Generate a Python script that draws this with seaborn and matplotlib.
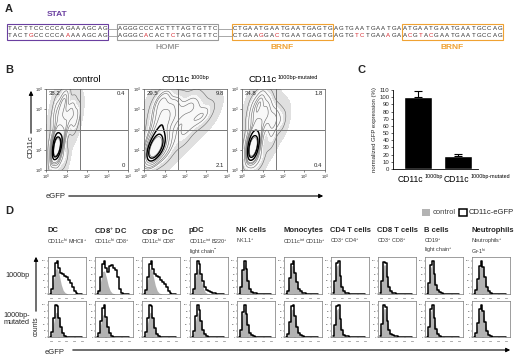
import numpy as np
import pandas as pd
import matplotlib
matplotlib.use("Agg")
import matplotlib.pyplot as plt
from matplotlib.patches import Rectangle
from matplotlib.colors import ListedColormap
import seaborn as sns

# ---------------- data ----------------
# Panel A: promoter sequences (wild type / mutated), segments between boxes
seq_wt = ["TACTTCCCCCAGAAAGCAG", "AGGGCCCACTTTAGTGTTC", "CTGAATGAATGAATGAGTG",
          "AGTGAATGAATGA", "ATGAATGAATGAATGCCAG"]
seq_mut = ["TACTGCCCCCAAAAAGCAG", "AGGGCACACTCTAGTGTTC", "CTGAAGGACTGAATGAGTG",
           "AGTGTCTGAAAGA", "ACGTACGAATGAATGCCAG"]
site_names = ["STAT", "HOMF", "BRNF", "", "BRNF"]

# Panel B: flow events (log10 units) and quadrant percentages
b_titles = [("control", ""), ("CD11c", "1000bp"), ("CD11c", "1000bp-mutated")]
core_x = [0.35, 0.45, 0.55, 0.40, 0.60, 0.50, 0.70, 0.45, 0.65, 0.80, 0.50, 0.55, 0.60, 0.45, 0.70, 0.40]
core_y = [0.60, 0.80, 1.00, 1.10, 1.20, 1.40, 1.00, 1.70, 1.60, 1.40, 0.90, 1.20, 0.80, 1.30, 1.30, 0.95]
control_x = core_x + [0.55, 0.75, 0.90, 0.60, 0.85, 1.00, 0.70, 1.10, 0.90, 1.25, 0.80, 1.30, 1.00, 1.40, 0.60, 0.40, 0.90, 0.30, 1.50, 0.50]
control_y = core_y + [2.00, 2.20, 1.90, 2.60, 2.60, 2.30, 3.00, 2.90, 3.30, 2.60, 3.50, 3.10, 3.60, 2.30, 0.35, 2.50, 0.60, 1.40, 2.80, 3.20]
bp1000_x = core_x + [0.55, 0.75, 0.90, 0.60, 0.85, 1.00, 0.70, 1.10, 0.90, 1.25, 0.80, 1.30, 1.00, 1.50, 1.80, 2.20, 2.60, 2.00, 2.80, 1.60, 2.40, 3.00, 1.20, 1.90, 2.30, 1.30, 1.00, 0.40]
bp1000_y = core_y + [2.00, 2.20, 1.90, 2.60, 2.60, 2.30, 3.00, 2.90, 3.30, 2.60, 3.50, 3.10, 3.60, 2.50, 2.90, 3.00, 3.20, 2.20, 2.60, 3.40, 2.40, 2.90, 1.20, 1.60, 3.50, 1.80, 0.70, 0.40]
mut_x = control_x + [1.50, 1.70, 1.90, 1.40, 1.20]
mut_y = control_y + [2.20, 2.60, 2.40, 1.50, 3.40]
quad_tl = ["38.2", "29.5", "34.8"]
quad_tr = ["0.4", "9.8", "1.8"]
quad_br = ["0", "2.1", "0.4"]

# Panel C: normalized GFP expression
bar_labels = ["1000bp", "1000bp-mutated"]
bar_values = [100, 18]
bar_errors = [8, 3]

# Panel D: histograms (% of max) along log10 eGFP
cell_titles = ["DC", r"CD8$^{+}$ DC", r"CD8$^{-}$ DC", "pDC", "NK cells", "Monocytes",
               "CD4 T cells", "CD8 T cells", "B cells", "Neutrophils"]
cell_subtitles = [r"CD11c$^{hi}$ MHCII$^{+}$", r"CD11c$^{hi}$ CD8$^{+}$", r"CD11c$^{hi}$ CD8$^{-}$",
                  "CD11c$^{int}$ B220$^{+}$\nlight chain$^{-}$", r"NK1.1$^{+}$",
                  r"CD11c$^{int}$ CD11b$^{+}$", r"CD3$^{+}$ CD4$^{+}$", r"CD3$^{+}$ CD8$^{+}$",
                  "CD19$^{+}$\nlight chain$^{+}$", "Neutrophils$^{+}$\nGr-1$^{hi}$"]
row_labels = ["1000bp", "1000bp-\nmutated"]
decades = [-0.25, 0.0, 0.25, 0.5, 0.75, 1.0, 1.25, 1.5, 1.75, 2.0, 2.25, 2.5, 2.75, 3.0, 3.25, 3.5, 3.75, 4.0]
control_counts = [
    [0, .12, .45, .75, .78, .55, .28, .11, .04, .01, 0, 0, 0, 0, 0, 0, 0, 0],
    [0, .10, .40, .68, .70, .50, .25, .10, .03, .01, 0, 0, 0, 0, 0, 0, 0, 0],
    [0, .12, .45, .75, .78, .52, .26, .10, .03, .01, 0, 0, 0, 0, 0, 0, 0, 0],
    [0, .14, .52, .78, .68, .42, .18, .06, .02, 0, 0, 0, 0, 0, 0, 0, 0, 0],
    [0, .20, .70, .92, .70, .35, .12, .04, .01, 0, 0, 0, 0, 0, 0, 0, 0, 0],
    [0, .10, .45, .85, .88, .60, .30, .12, .04, .01, 0, 0, 0, 0, 0, 0, 0, 0],
    [.02, .35, .85, .90, .50, .20, .06, .02, 0, 0, 0, 0, 0, 0, 0, 0, 0, 0],
    [.02, .38, .88, .88, .48, .18, .06, .02, 0, 0, 0, 0, 0, 0, 0, 0, 0, 0],
    [.01, .30, .80, .92, .55, .25, .10, .03, .01, 0, 0, 0, 0, 0, 0, 0, 0, 0],
    [0, .10, .40, .80, .92, .75, .45, .20, .07, .02, 0, 0, 0, 0, 0, 0, 0, 0],
]
egfp_1000bp = [
    [0, .15, .55, .95, 1.0, .78, .65, .60, .55, .50, .42, .33, .20, .08, .02, 0, 0, 0],
    [0, .10, .50, .90, 1.0, .80, .68, .85, .88, .80, .72, .50, .15, .04, .01, 0, 0, 0],
    [0, .12, .50, .92, 1.0, .75, .60, .55, .50, .42, .36, .30, .20, .08, .02, 0, 0, 0],
    [0, .15, .60, 1.0, .90, .60, .40, .22, .12, .08, .05, .04, .02, .01, 0, 0, 0, 0],
    [0, .20, .72, 1.0, .75, .40, .15, .06, .03, .02, .01, 0, 0, 0, 0, 0, 0, 0],
    [0, .10, .48, .92, 1.0, .65, .35, .16, .08, .04, .02, .01, 0, 0, 0, 0, 0, 0],
    [.02, .38, .95, 1.0, .55, .22, .08, .03, .02, .01, 0, 0, 0, 0, 0, 0, 0, 0],
    [.02, .40, .98, .95, .50, .20, .08, .03, .02, .01, 0, 0, 0, 0, 0, 0, 0, 0],
    [.01, .32, .88, 1.0, .60, .28, .12, .05, .02, .01, 0, 0, 0, 0, 0, 0, 0, 0],
    [0, .12, .45, .85, 1.0, .82, .50, .22, .08, .02, 0, 0, 0, 0, 0, 0, 0, 0],
]
egfp_mutated = [
    [0, .15, .60, 1.0, .95, .60, .30, .12, .04, .01, 0, 0, 0, 0, 0, 0, 0, 0],
    [0, .12, .50, .90, 1.0, .62, .30, .12, .04, .01, 0, 0, 0, 0, 0, 0, 0, 0],
    [0, .15, .58, 1.0, .95, .58, .28, .10, .03, .01, 0, 0, 0, 0, 0, 0, 0, 0],
    [0, .18, .65, 1.0, .85, .50, .22, .08, .03, .01, 0, 0, 0, 0, 0, 0, 0, 0],
    [0, .22, .78, 1.0, .72, .36, .13, .05, .02, .01, 0, 0, 0, 0, 0, 0, 0, 0],
    [0, .10, .48, .95, 1.0, .65, .32, .13, .05, .02, 0, 0, 0, 0, 0, 0, 0, 0],
    [.02, .38, .95, 1.0, .55, .22, .07, .03, .02, .01, 0, 0, 0, 0, 0, 0, 0, 0],
    [.02, .40, 1.0, .92, .50, .22, .10, .05, .04, .03, .01, 0, 0, 0, 0, 0, 0, 0],
    [.01, .32, .88, 1.0, .58, .26, .10, .04, .01, 0, 0, 0, 0, 0, 0, 0, 0, 0],
    [0, .12, .45, .88, 1.0, .80, .48, .20, .07, .02, 0, 0, 0, 0, 0, 0, 0, 0],
]

# ---------------- style ----------------
sns.set_theme(style="white")
plt.rcParams["font.family"] = ["Liberation Sans", "DejaVu Sans"]
plt.rcParams["mathtext.fontset"] = "custom"
plt.rcParams["mathtext.rm"] = "Liberation Sans"
plt.rcParams["mathtext.it"] = "Liberation Sans"
plt.rcParams["mathtext.bf"] = "Liberation Sans:bold"

W, H = 520, 360
fig = plt.figure(figsize=(W / 100, H / 100), dpi=100)
fig.patch.set_facecolor("white")
renderer = fig.canvas.get_renderer()


def px_axes(x0, y0, x1, y1):
    return fig.add_axes([x0 / W, 1 - y1 / H, (x1 - x0) / W, (y1 - y0) / H])


ov = fig.add_axes([0, 0, 1, 1])
ov.set_xlim(0, W)
ov.set_ylim(H, 0)
ov.axis("off")
ov.patch.set_alpha(0)


def sup_text(x, y, base, sup, fs, sfs, ha="center", color="black"):
    """Base text with a small superscript, laid out in pixel coordinates."""
    t1 = ov.text(0, y, base, fontsize=fs, ha="left", va="center", color=color)
    wb = t1.get_window_extent(renderer).width
    ws = 0
    t2 = None
    if sup:
        t2 = ov.text(0, y - fs * 0.42, sup, fontsize=sfs, ha="left", va="center", color=color)
        ws = t2.get_window_extent(renderer).width + 0.5
    total = wb + ws
    left = x - total / 2 if ha == "center" else x
    t1.set_x(left)
    if t2 is not None:
        t2.set_x(left + wb + 0.5)


PURPLE = "#6a3fa0"
ORANGE = "#f0a232"
GREY = "#9a9a9a"
RED = "#d6282e"

# ---------------- Panel A ----------------
ov.text(5, 9, "A", fontsize=8, fontweight="bold", va="center")
seg_x0 = [7, 117, 232, 333, 402]
pitch = 5.29
box_colors = [PURPLE, GREY, ORANGE, None, ORANGE]
row_y = [28.5, 35.5]
for k, (wt, mu) in enumerate(zip(seq_wt, seq_mut)):
    x0 = seg_x0[k]
    for i, (a, b) in enumerate(zip(wt, mu)):
        cx = x0 + pitch * (i + 0.5)
        ov.text(cx, row_y[0], a, fontsize=4.4, ha="center", va="center", color="#333333")
        ov.text(cx, row_y[1], b, fontsize=4.4, ha="center", va="center",
                color=RED if a != b else "#333333")
    if box_colors[k] is not None:
        wbox = pitch * len(wt)
        ov.add_patch(Rectangle((x0, 24), wbox, 15.5, fill=False, ec=box_colors[k], lw=0.8))
        if site_names[k]:
            ly = 14 if k == 0 else 47.5
            ov.text(x0 + wbox / 2, ly, site_names[k], fontsize=6, fontweight="bold",
                    color=box_colors[k], ha="center", va="center")
for xa, xb in [(107.5, 117), (217.5, 232)]:
    for yy in row_y:
        ov.plot([xa, xb], [yy, yy], color=GREY, lw=0.6)

# ---------------- Panel B ----------------
ov.text(5, 70, "B", fontsize=8, fontweight="bold", va="center")
b_boxes = [(46, 89, 128, 170), (144, 89, 227, 170), (242, 89, 325, 170)]
b_x = [control_x, bp1000_x, mut_x]
b_y = [control_y, bp1000_y, mut_y]
halo_cmap = ListedColormap(["#e0e0e0"])
inner_cmap = ListedColormap(["#f8f8f8"])
line_cmap = ListedColormap(["#686868"])
core_cmap = ListedColormap(["#000000"])
for j, (x0, y0, x1, y1) in enumerate(b_boxes):
    ax = px_axes(x0, y0, x1, y1)
    sns.kdeplot(x=b_x[j], y=b_y[j], ax=ax, fill=True, levels=[0.005, 1.0],
                cmap=halo_cmap, bw_adjust=0.95)
    sns.kdeplot(x=b_x[j], y=b_y[j], ax=ax, fill=True, levels=[0.12, 1.0],
                cmap=inner_cmap, bw_adjust=0.8)
    sns.kdeplot(x=b_x[j], y=b_y[j], ax=ax, levels=8, thresh=0.04,
                cmap=line_cmap, linewidths=0.4, bw_adjust=0.8)
    sns.kdeplot(x=b_x[j], y=b_y[j], ax=ax, levels=[0.72, 0.82],
                cmap=core_cmap, linewidths=1.0, bw_adjust=0.8)
    ax.axvline(1.66, color="#777777", lw=0.7)
    ax.axhline(2.0, color="#777777", lw=0.7)
    ax.set_xlim(0, 4)
    ax.set_ylim(0, 4)
    ax.set_xlabel("")
    ax.set_ylabel("")
    ax.set_xticks(range(5))
    ax.set_yticks(range(5))
    ax.set_xticklabels([rf"$10^{{{i}}}$" for i in range(5)], fontsize=3)
    ax.set_yticklabels([rf"$10^{{{i}}}$" for i in range(5)], fontsize=3)
    ax.tick_params(length=1.2, width=0.4, pad=0.8, left=True, bottom=True)
    for s in ax.spines.values():
        s.set_linewidth(0.5)
        s.set_color("#555555")
    ax.text(0.03, 0.97, quad_tl[j], transform=ax.transAxes, fontsize=4.3, va="top", ha="left")
    ax.text(0.97, 0.97, quad_tr[j], transform=ax.transAxes, fontsize=4.3, va="top", ha="right")
    ax.text(0.97, 0.03, quad_br[j], transform=ax.transAxes, fontsize=4.3, va="bottom", ha="right")
    sup_text((x0 + x1) / 2, 80, b_titles[j][0], b_titles[j][1], 6.8, 4.0)

ov.annotate("", xy=(31, 88), xytext=(31, 136),
            arrowprops=dict(arrowstyle="-|>", lw=0.8, color="black", mutation_scale=6))
ov.text(31, 147, "CD11c", rotation=90, fontsize=5.5, ha="center", va="center")
ov.text(46, 196, "eGFP", fontsize=5.5, ha="left", va="center")
ov.annotate("", xy=(326, 196), xytext=(66, 196),
            arrowprops=dict(arrowstyle="-|>", lw=0.8, color="black", mutation_scale=6))

# ---------------- Panel C ----------------
ov.text(357, 70, "C", fontsize=8, fontweight="bold", va="center")
axc = px_axes(393, 90, 478, 169)
dfc = pd.DataFrame({"group": bar_labels, "value": bar_values})
sns.barplot(data=dfc, x="group", y="value", color="black", width=0.7, ax=axc,
            saturation=1, errorbar=None)
axc.errorbar(x=[0, 1], y=bar_values, yerr=[[0, 0], bar_errors], fmt="none",
             ecolor="black", capsize=3, elinewidth=0.8, capthick=0.8)
axc.set_xlim(-0.625, 1.5)
axc.set_ylim(0, 110)
axc.set_yticks(range(0, 111, 10))
axc.tick_params(axis="y", labelsize=4.3, length=1.5, width=0.5, pad=1, left=True)
axc.set_xticklabels([])
axc.tick_params(axis="x", length=0)
axc.set_xlabel("")
axc.set_ylabel("normalized GFP expression (%)", fontsize=4.3, labelpad=2)
sns.despine(ax=axc)
for s in ["left", "bottom"]:
    axc.spines[s].set_linewidth(0.6)
    axc.spines[s].set_color("black")
sup_text(398, 179, "CD11c", bar_labels[0], 6.2, 3.9, ha="left")
sup_text(444, 179, "CD11c", bar_labels[1], 6.2, 3.9, ha="left")

# ---------------- Panel D ----------------
ov.text(5, 211, "D", fontsize=8, fontweight="bold", va="center")
ov.add_patch(Rectangle((422, 209), 8, 7, fc="#b3b3b3", ec="none"))
ov.text(433, 212.5, "control", fontsize=5.5, va="center", color="#444444")
ov.add_patch(Rectangle((459, 209), 7.5, 7, fc="white", ec="black", lw=1.1))
ov.text(469, 212.5, "CD11c-eGFP", fontsize=5.5, va="center")

col_x0 = [48, 95, 142, 190, 237, 284, 331, 378, 425, 472]
col_w = 38
rows_y = [(257, 294), (301, 337)]
for c in range(10):
    ov.text(col_x0[c] - 1, 231, cell_titles[c], fontsize=5.5, fontweight="bold",
            ha="left", va="center")
    ov.text(col_x0[c] - 1, 237, cell_subtitles[c], fontsize=3.9, ha="left", va="top",
            linespacing=1.1, color="#333333")
    for r, (ya, yb) in enumerate(rows_y):
        ax = px_axes(col_x0[c], ya, col_x0[c] + col_w, yb)
        ax.fill_between(decades, control_counts[c], color="#b3b3b3", lw=0)
        yvals = egfp_1000bp[c] if r == 0 else egfp_mutated[c]
        sns.lineplot(x=decades, y=yvals, ax=ax, color="black", lw=1.1,
                     drawstyle="steps-mid")
        ax.set_xlim(-0.5, 4.5)
        ax.set_ylim(0, 1.12)
        ax.set_xticks(range(5))
        ax.set_yticks([0, 0.2, 0.4, 0.6, 0.8, 1.0])
        ax.set_xticklabels([rf"$10^{{{i}}}$" for i in range(5)], fontsize=1.6)
        ax.set_yticklabels(["0", "20", "40", "60", "80", "100"], fontsize=1.6)
        ax.tick_params(length=1, width=0.3, pad=0.5, left=True, bottom=True)
        ax.set_xlabel("")
        ax.set_ylabel("")
        for s in ax.spines.values():
            s.set_linewidth(0.5)
            s.set_color("#777777")

for r, lab in enumerate(row_labels):
    yc = (rows_y[r][0] + rows_y[r][1]) / 2
    ov.text(17, yc, lab, fontsize=5.2, ha="center", va="center", linespacing=1.1)
ov.annotate("", xy=(36, 254), xytext=(36, 314),
            arrowprops=dict(arrowstyle="-|>", lw=0.8, color="black", mutation_scale=6))
ov.text(36.5, 326, "counts", rotation=90, fontsize=4.8, ha="center", va="center")
ov.text(45, 352, "eGFP", fontsize=5.5, ha="left", va="center")
ov.annotate("", xy=(513, 350), xytext=(70, 350),
            arrowprops=dict(arrowstyle="-|>", lw=0.8, color="black", mutation_scale=6))

fig.savefig("out.png", dpi=100, facecolor="white")
